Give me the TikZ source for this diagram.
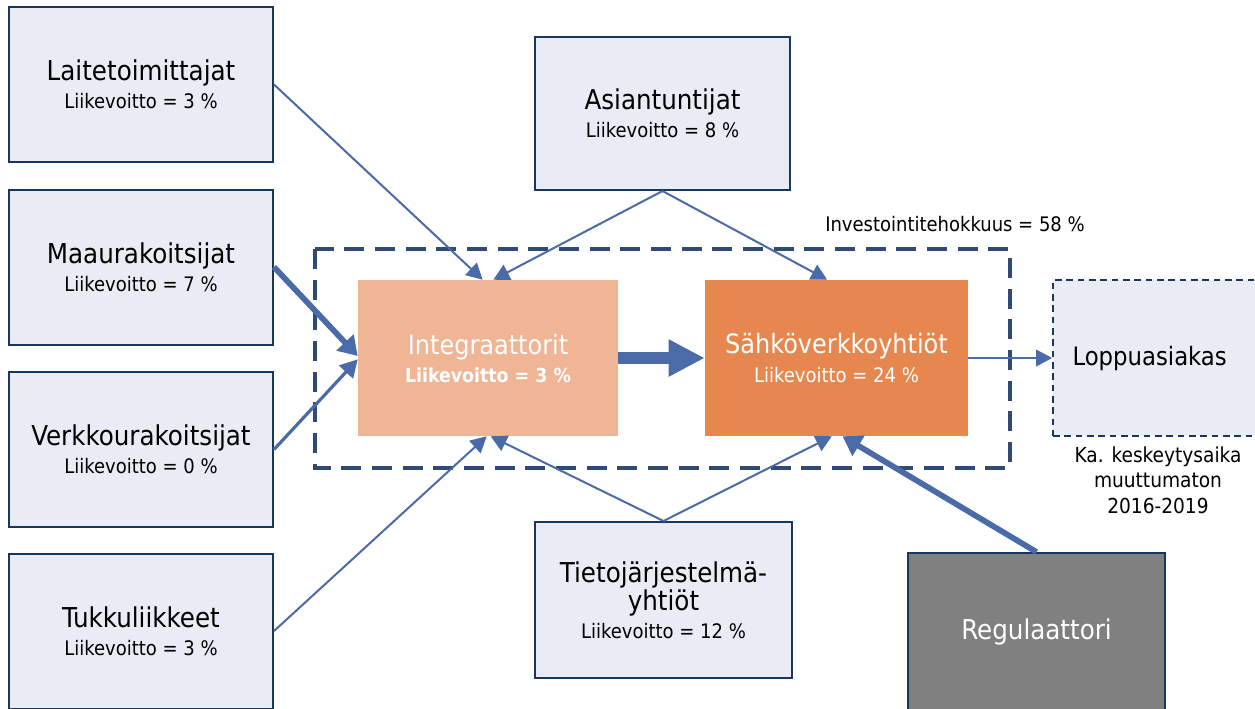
\documentclass[tikz,border=0pt]{standalone}
\usepackage{fontspec}
\setmainfont{DejaVu Sans Condensed}
\usetikzlibrary{arrows.meta,calc}
\definecolor{boxfill}{HTML}{E9ECF4}
\definecolor{boxline}{HTML}{17375E}
\definecolor{arrowblue}{HTML}{4A6AA8}
\definecolor{frameblue}{HTML}{2F4A73}
\definecolor{intfill}{HTML}{F0B594}
\definecolor{sahfill}{HTML}{E5874F}
\definecolor{regfill}{HTML}{808080}
\tikzset{
  actor/.style={draw=boxline, line width=1.5pt, fill=boxfill, align=center,
    minimum width=198pt, minimum height=116.25pt, inner sep=0pt,
    font=\fontsize{20.5}{21}\selectfont},
  core/.style={draw=none, align=center, text=white, inner sep=0pt,
    minimum width=195pt, minimum height=117pt,
    font=\fontsize{20}{21}\selectfont},
  flow/.style={draw=arrowblue, line width=1.5pt,
    -{Triangle[length=12pt, width=12.5pt]}},
  flowmid/.style={draw=arrowblue, line width=2.4pt,
    -{Triangle[length=13pt, width=14pt]}},
  flowbig/.style={draw=arrowblue, line width=4.3pt,
    -{Triangle[length=14pt, width=17pt]}},
  note/.style={font=\fontsize{15.5}{19}\selectfont, align=center}
}
\newcommand{\subline}[1]{\\[0pt]{\fontsize{15}{17}\selectfont #1}}
\begin{document}
\begin{tikzpicture}[x=0.75pt, y=-0.75pt]
\useasboundingbox (0,0) rectangle (1255,708);

% group frame around the core actors
\draw[frameblue, line width=2.3pt, dash pattern=on 15pt off 8pt]
  (315,249) rectangle (1010,468);
\node[note, font=\fontsize{15}{18}\selectfont] (eff) at (955,224) {Investointitehokkuus = 58 \%};

% suppliers on the left
\node[actor] (lait) at (141,84.5) {Laitetoimittajat\subline{Liikevoitto = 3 \%}};
\node[actor] (maa)  at (141,267) {Maaurakoitsijat\subline{Liikevoitto = 7 \%}};
\node[actor] (verk) at (141,449.5) {Verkkourakoitsijat\subline{Liikevoitto = 0 \%}};
\node[actor] (tuk)  at (141,631) {Tukkuliikkeet\subline{Liikevoitto = 3 \%}};

% experts and IT vendors
\node[actor, minimum width=191.25pt, minimum height=114.75pt] (ast) at (662.5,113.5)
  {Asiantuntijat\subline{Liikevoitto = 8 \%}};
\node[actor, minimum width=192.75pt, minimum height=117pt] (tie) at (663.5,600)
  {Tietojärjestelmä-\\[0pt]yhtiöt\subline{Liikevoitto = 12 \%}};

% regulator
\node[actor, fill=regfill, text=white, minimum width=192.75pt, minimum height=118.5pt]
  (reg) at (1036.5,632) {Regulaattori};

% core actors
\node[core, fill=intfill] (int) at (488,358)
  {Integraattorit\\[0pt]{\fontsize{14.5}{17}\selectfont\bfseries Liikevoitto = 3 \%}};
\node[core, fill=sahfill, minimum width=197.25pt] (sah) at (836.5,358)
  {Sähköverkkoyhtiöt\subline{Liikevoitto = 24 \%}};

% end customer
\node[actor, draw=boxline, line width=1.4pt, dash pattern=on 5pt off 3.5pt,
  minimum width=153pt, minimum height=117pt, font=\fontsize{19}{22}\selectfont]
  (lop) at (1155,358) {\hspace*{-4pt}Loppuasiakas\hspace*{4pt}};
\node[note] (kesk) at (1158,480) {Ka. keskeytysaika\\muuttumaton\\2016-2019};

% flows into the integrators
\draw[flow] (lait.east) -- ([xshift=-4pt]int.north);
\draw[flowbig] (maa.east) -- ([yshift=1.5pt]int.west);
\draw[flowmid] (verk.east) -- ([yshift=-1pt]int.west);
\draw[flow] (tuk.east) -- ([xshift=-1pt]int.south);
\draw[flow] (ast.south) -- ([xshift=4pt]int.north);
\draw[flow] (tie.north) -- ([xshift=2pt]int.south);

% flows into the grid companies
\draw[flow] (ast.south) -- ([xshift=-7pt]sah.north);
\draw[flow] (tie.north) -- ([xshift=-3.5pt]sah.south);
\draw[flowbig] (reg.north) -- ([xshift=4.5pt]sah.south);

% main value chain
\draw[draw=arrowblue, line width=9pt,
  -{Triangle[length=27pt, width=26pt]}] (int.east) -- (sah.west);
\draw[flow] (sah.east) -- (lop.west);
\end{tikzpicture}
\end{document}
